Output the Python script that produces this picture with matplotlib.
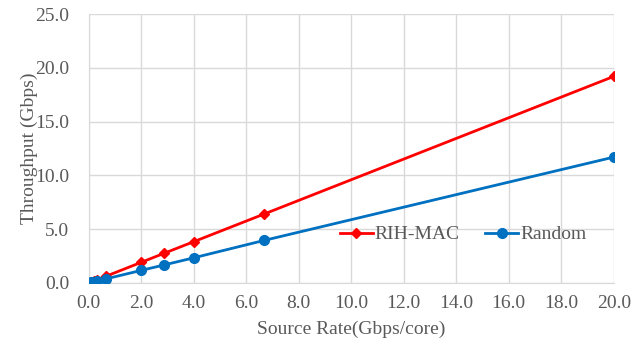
import matplotlib
matplotlib.use("Agg")
import matplotlib.pyplot as plt
import numpy as np

# source rate (Gbps/core)
source_rate = [0.1, 0.2, 0.33, 0.67, 2.0, 2.86, 4.0, 6.67, 20.0]
# throughput (Gbps)
rih_mac = [0.1, 0.19, 0.32, 0.64, 1.92, 2.75, 3.84, 6.4, 19.2]
random_sched = [0.06, 0.12, 0.2, 0.39, 1.17, 1.67, 2.34, 3.95, 11.7]

x_ticks = np.arange(0, 20.1, 2.0)
y_ticks = np.arange(0, 25.1, 5.0)

plt.rcParams["font.family"] = ["Liberation Serif", "DejaVu Serif"]

fig = plt.figure(figsize=(6.34, 3.43), dpi=100)
ax = fig.add_axes([0.140, 0.175, 0.828, 0.784])

ax.plot(source_rate, rih_mac, color="#ff0000", linewidth=2.0,
        marker="D", markersize=5, label="RIH-MAC", zorder=3)
ax.plot(source_rate, random_sched, color="#0070c0", linewidth=2.0,
        marker="o", markersize=7, label="Random", zorder=3)

ax.set_xlim(0, 20)
ax.set_ylim(0, 25)
ax.set_xticks(x_ticks)
ax.set_yticks(y_ticks)
ax.set_xticklabels([f"{v:.1f}" for v in x_ticks])
ax.set_yticklabels([f"{v:.1f}" for v in y_ticks])

ax.grid(True, color="#d9d9d9", linewidth=1.0)
ax.set_axisbelow(True)
for s in ax.spines.values():
    s.set_visible(False)
ax.spines["bottom"].set_visible(True)
ax.spines["bottom"].set_color("#d9d9d9")
ax.spines["left"].set_visible(True)
ax.spines["left"].set_color("#d9d9d9")

ax.tick_params(axis="both", length=0, labelsize=14, colors="#595959")
ax.tick_params(axis="y", pad=14)
ax.tick_params(axis="x", pad=9)
ax.set_xlabel("Source Rate(Gbps/core)", fontsize=14, color="#595959", labelpad=6)
ax.set_ylabel("Throughput (Gbps)", fontsize=14, color="#595959", labelpad=-2)

ax.legend(loc="center left", bbox_to_anchor=(0.445, 0.18), ncol=2, frameon=False,
          fontsize=14, handlelength=1.7, handletextpad=0.1, columnspacing=1.3,
          labelcolor="#595959")

fig.savefig("out.png", dpi=100)
